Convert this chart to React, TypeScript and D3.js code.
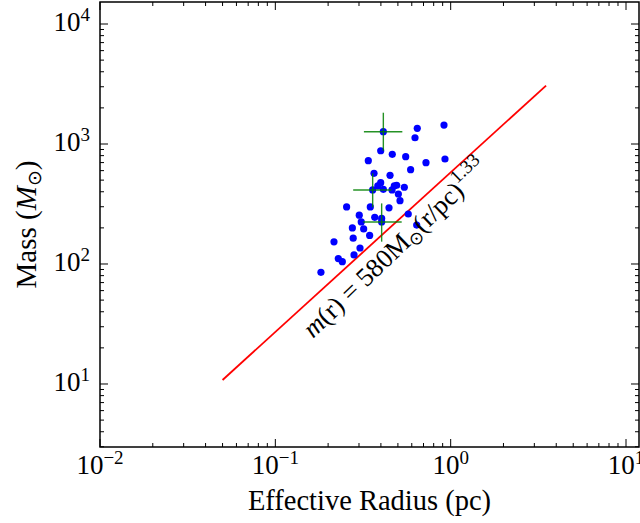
import React from "react";
import * as d3 from "d3";

const radius = [0.413,0.645,0.916,0.626,0.399,0.4645,0.554,0.339,0.928,0.723,0.591,0.3655,0.451,0.399,0.384,0.359,0.413,0.477,0.492,0.463,0.544,0.503,0.514,0.255,0.348,0.445,0.301,0.573,0.369,0.404,0.309,0.404,0.275,0.319,0.640,0.345,0.278,0.216,0.304,0.2286,0.241,0.281,0.182];
const mass = [1266,1352,1439,1128,879,821,784,726,750,699,611,570,548,476,447,414,419,447,453,414,436,383,337,299,299,294,255,261,245,240,224,224,200,196,211,173,164,153,136,111,104.5,119,85.3];

// error-bar clumps
const errR = [0.413, 0.359, 0.404];
const errM = [1266, 414, 224];
const errRLo = [0.320, 0.278, 0.3176];
const errRHi = [0.530, 0.4585, 0.5256];
const errMLo = [879, 297, 153.5];
const errMHi = [1823, 570, 320];

// model line m(r) = 580 Msun (r/pc)^1.33 endpoints
const lineR = [0.05, 3.5];
const lineM = [10.8, 3070];

const xTickExp = [-2, -1, 0, 1];
const yTickExp = [1, 2, 3, 4];

const W = 640, H = 523;
const L = 100, R = 639, T = 2, B = 447;

export default function App() {
  const x = d3.scaleLog().domain([0.01, 11.86]).range([L, R]);
  const y = d3.scaleLog().domain([2.985, 15255]).range([B, T]);

  const minorX: number[] = [];
  for (let e = -2; e <= 1; e++) for (let k = 2; k <= 9; k++) {
    const v = k * Math.pow(10, e);
    if (v < 11.86) minorX.push(v);
  }
  const minorY: number[] = [];
  for (let e = 0; e <= 4; e++) for (let k = 2; k <= 9; k++) {
    const v = k * Math.pow(10, e);
    if (v > 2.985 && v < 15255) minorY.push(v);
  }

  const font = "'Liberation Serif', 'Times New Roman', serif";
  const line = d3.line<number>().x((_, i) => x(lineR[i])).y((_, i) => y(lineM[i]));

  const ax0 = x(lineR[0]), ay0 = y(lineM[0]);
  const ax1 = x(lineR[1]), ay1 = y(lineM[1]);
  const ang = (Math.atan2(ay1 - ay0, ax1 - ax0) * 180) / Math.PI;

  return (
    <svg width={W} height={H} style={{ position: "absolute", left: 0, top: 0 }} fontFamily={font}>
      <rect x={0} y={0} width={W} height={H} fill="white" />
      {/* model line */}
      <path d={line(lineR) || ""} stroke="red" strokeWidth={1.8} fill="none" />
      {/* data points */}
      {radius.map((r, i) => (
        <circle key={i} cx={x(r)} cy={y(mass[i])} r={3.6} fill="#0000ff" />
      ))}
      {/* error bars */}
      {errR.map((r, i) => (
        <g key={"e" + i} stroke="green" strokeWidth={1.4} opacity={0.85}>
          <line x1={x(errRLo[i])} x2={x(errRHi[i])} y1={y(errM[i])} y2={y(errM[i])} />
          <line x1={x(r)} x2={x(r)} y1={y(errMLo[i])} y2={y(errMHi[i])} />
        </g>
      ))}
      {/* annotation */}
      <text transform={`translate(313,339) rotate(${ang - 1.5})`} fontSize={26.5} fill="black">
        <tspan fontStyle="italic">m</tspan>
        <tspan>(r) = 580M</tspan>
        <tspan fontSize={18} dy={5}>⊙</tspan>
        <tspan dy={-5}>(r/pc)</tspan>
        <tspan fontSize={19} dy={-12}>1.33</tspan>
      </text>
      {/* ticks */}
      <g stroke="black" strokeWidth={1}>
        {xTickExp.map(e => {
          const px = x(Math.pow(10, e));
          return <g key={"xt" + e}><line x1={px} x2={px} y1={B} y2={B - 8} /><line x1={px} x2={px} y1={T} y2={T + 8} /></g>;
        })}
        {minorX.map(v => {
          const px = x(v);
          return <g key={"xm" + v}><line x1={px} x2={px} y1={B} y2={B - 4} /><line x1={px} x2={px} y1={T} y2={T + 4} /></g>;
        })}
        {yTickExp.map(e => {
          const py = y(Math.pow(10, e));
          return <g key={"yt" + e}><line x1={L} x2={L + 8} y1={py} y2={py} /><line x1={R} x2={R - 8} y1={py} y2={py} /></g>;
        })}
        {minorY.map(v => {
          const py = y(v);
          return <g key={"ym" + v}><line x1={L} x2={L + 4} y1={py} y2={py} /><line x1={R} x2={R - 4} y1={py} y2={py} /></g>;
        })}
      </g>
      <rect x={L} y={T} width={R - L} height={B - T} fill="none" stroke="black" strokeWidth={1.5} />
      {/* tick labels */}
      {xTickExp.map(e => (
        <text key={"xl" + e} x={x(Math.pow(10, e))} y={474} textAnchor="middle" fontSize={27}>
          <tspan>10</tspan>
          <tspan fontSize={19} dy={-10}>{e < 0 ? "\u2212" + Math.abs(e) : String(e)}</tspan>
        </text>
      ))}
      {yTickExp.map(e => (
        <text key={"yl" + e} x={90} y={y(Math.pow(10, e)) + 7} textAnchor="end" fontSize={27}>
          <tspan>10</tspan>
          <tspan fontSize={19} dy={-10}>{String(e)}</tspan>
        </text>
      ))}
      {/* axis titles */}
      <text x={(L + R) / 2} y={510} textAnchor="middle" fontSize={28.5}>Effective Radius (pc)</text>
      <text transform={`translate(36,${(T + B) / 2}) rotate(-90)`} textAnchor="middle" fontSize={29}>
        <tspan>Mass (</tspan>
        <tspan fontStyle="italic">M</tspan>
        <tspan fontSize={19} dy={5}>⊙</tspan>
        <tspan dy={-5}>)</tspan>
      </text>
    </svg>
  );
}
